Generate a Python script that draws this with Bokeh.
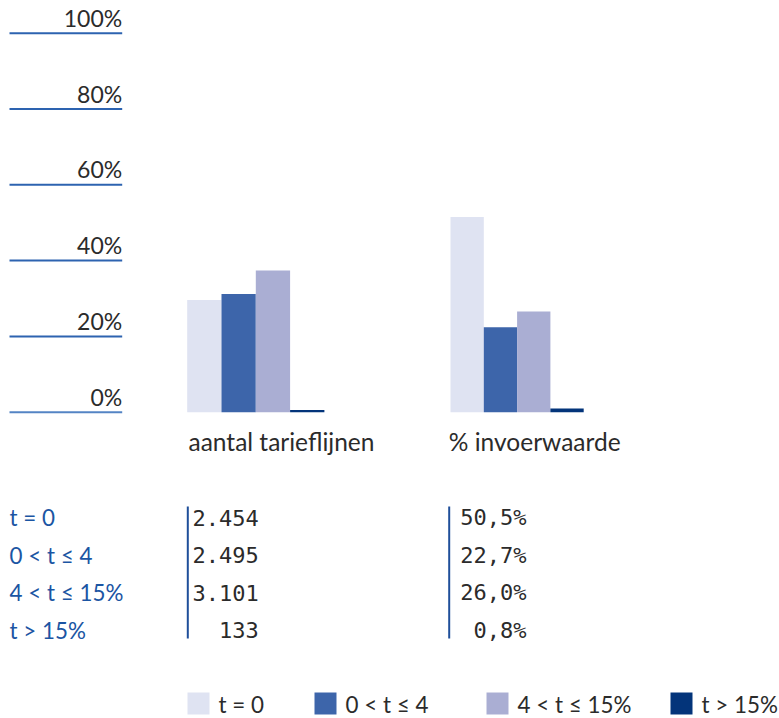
from bokeh.plotting import figure
from bokeh.models import Range1d
from bokeh.core.properties import value
from bokeh.embed import file_html
from bokeh.resources import INLINE

# ---- data ----
categories = ["aantal tarieflijnen", "% invoerwaarde"]
series = ["t = 0", "0 < t \u2264 4", "4 < t \u2264 15%", "t > 15%"]
aantal_pct = [29.6, 31.2, 37.4, 0.6]
invoer_pct = [51.5, 22.4, 26.6, 1.0]
aantal_txt = ["2.454", "2.495", "3.101", "133"]
invoer_txt = ["50,5%", "22,7%", "26,0%", "0,8%"]
tick_values = [0, 20, 40, 60, 80, 100]
tick_labels = ["0%", "20%", "40%", "60%", "80%", "100%"]

colors = ["#dfe3f2", "#3d65aa", "#aaaed3", "#03347a"]
TEXT = "#2b2b2b"
BLUE = "#1b55a3"
LINE = "#2d63b0"
FONT = "Lato"
MONO = "DejaVu Sans Mono"

W, H = 779, 718
p = figure(width=W, height=H, output_backend="svg", toolbar_location=None,
           x_range=Range1d(0, W), y_range=Range1d(H, 0),
           x_axis_location=None, y_axis_location=None,
           min_border=0, outline_line_color=None, title=None)
p.grid.visible = False
p.background_fill_color = "white"
p.border_fill_color = "white"

# percentage scale: 0% at y 411.7, 100% at 32.7 (pixels from top)
px_per = 3.79
zero_y = 411.7
p.extra_y_ranges = {"pct": Range1d(start=(zero_y - H) / px_per, end=zero_y / px_per)}

# ---- y "axis" (lines with labels above) ----
line_cols = [("#5484c4" if v == 0 else LINE) for v in tick_values]
p.segment(x0=9, x1=121.7, y0=tick_values, y1=tick_values, line_color=line_cols,
          line_width=2, y_range_name="pct")
p.text(x=121.7, y=tick_values, text=tick_labels, y_range_name="pct",
       text_font=value(FONT), text_font_size=value("23px"), text_color=TEXT,
       text_align="right", text_baseline="middle", y_offset=-15.5)

# ---- bars ----
group_start = [186.7, 450.0]
bar_w = [34.3, 33.3]
for gi, vals in enumerate([aantal_pct, invoer_pct]):
    xs = [group_start[gi] + bar_w[gi] * (i + 0.5) for i in range(len(vals))]
    p.vbar(x=xs, width=bar_w[gi], top=vals, bottom=0, fill_color=colors,
           line_color=None, y_range_name="pct")

# ---- category labels ----
p.text(x=[188, 448.3], y=[441, 441], text=categories,
       text_font=value(FONT), text_font_size=value("24.5px"), text_color=TEXT,
       text_align="left", text_baseline="middle")

# ---- table ----
row_y = [517 + 37.5 * i for i in range(len(series))]
p.text(x=9, y=row_y, text=series, text_font=value(FONT),
       text_font_size=value("22.4px"), text_color=BLUE,
       text_align="left", text_baseline="middle")
p.segment(x0=[187.3, 448.7], x1=[187.3, 448.7], y0=[506, 506], y1=[638, 638],
          line_color="#1f4f9a", line_width=2)
p.text(x=258.3, y=row_y, text=aantal_txt, text_font=value(MONO),
       text_font_size=value("22px"), text_color=TEXT,
       text_align="right", text_baseline="middle")
p.text(x=526, y=row_y, text=invoer_txt, text_font=value(MONO),
       text_font_size=value("22px"), text_color=TEXT,
       text_align="right", text_baseline="middle")

# ---- legend ----
leg_x = [187, 314, 486, 670]
sq = 22
leg_top = 692
p.quad(left=leg_x, right=[x + sq for x in leg_x], top=[leg_top] * 4,
       bottom=[leg_top + sq] * 4, fill_color=colors, line_color=None)
p.text(x=[x + 31 for x in leg_x], y=[leg_top + sq / 2 + 1] * 4, text=series,
       text_font=value(FONT), text_font_size=value("22.4px"), text_color=TEXT,
       text_align="left", text_baseline="middle")

open("out.html", "w").write(file_html(p, INLINE))
